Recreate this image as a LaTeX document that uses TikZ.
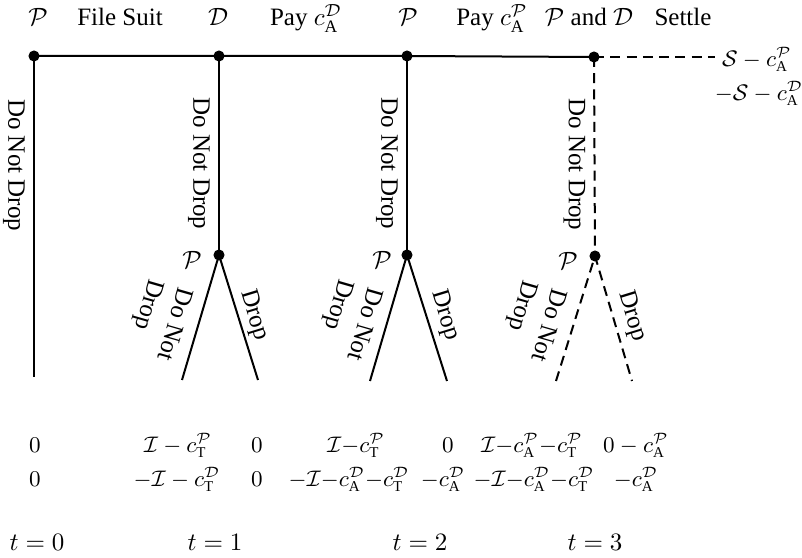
\documentclass[tikz,border=0pt]{standalone}
\usepackage{amsmath,fontspec}
\setmainfont{Liberation Serif}
\usetikzlibrary{arrows.meta,calc,positioning}
\tikzset {
  >=Stealth,
  every node/.style={font=\normalsize},
  branch/.style={line width=0.8pt},
  settle/.style={line width=0.8pt,dash pattern=on 4pt off 2.5pt},
  vlabel/.style={rotate=-90,anchor=north},
  blabel/.style={align=left,rotate=-106},
  payoff/.style={font=\small,anchor=base},
  stage/.style={anchor=base},
}
\newcommand{\cst}[2]{c_{\mathrm{#1}}^{\mathcal{#2}}}

\begin{document}
\begin{tikzpicture}[x=0.4pt,y=-0.4pt]
  \useasboundingbox (0,0) rectangle (802,558);

  \coordinate (n0) at (34,56);
  \coordinate (n1) at (219,56);
  \coordinate (n2) at (407,56);
  \coordinate (n3) at (594,57);
  \coordinate (s3) at (715,57);
  \coordinate (p1) at (219,255);
  \coordinate (p2) at (407,255);
  \coordinate (p3) at (595,256);
  \coordinate (l0) at (34,377);
  \coordinate (l1a) at (182,380);
  \coordinate (l1b) at (258,380);
  \coordinate (l2a) at (370,381);
  \coordinate (l2b) at (447,381);
  \coordinate (l3a) at (556,381);
  \coordinate (l3b) at (632,381);

  % main line
  \draw[branch] (n0) -- (n1) -- (n2) -- (n3);
  \draw[settle] (n3) -- (s3);

  \draw[branch] (n0) -- node[vlabel,pos=.34]{Do Not Drop} (l0);
  \draw[branch] (n1) -- node[vlabel,pos=.54]{Do Not Drop} (p1);
  \draw[branch] (n2) -- node[vlabel,pos=.54]{Do Not Drop} (p2);
  \draw[settle] (n3) -- node[vlabel,pos=.54]{Do Not Drop} (p3);

  \draw[branch] (l1a) -- (p1) -- (l1b);
  \draw[branch] (l2a) -- (p2) -- (l2b);
  \draw[settle] (l3a) -- (p3) -- (l3b);

  \node[blabel] (dn1) at ($(p1)+(-60,65)$) {Do Not\\Drop};
  \node[blabel] (dn2) at ($(p2)+(-58,65)$) {Do Not\\Drop};
  \node[blabel] (dn3) at ($(p3)+(-62,65)$) {Do Not\\Drop};
  \node[rotate=-73] (dr1) at ($(p1)+(35,60)$) {Drop};
  \node[rotate=-73] (dr2) at ($(p2)+(38,60)$) {Drop};
  \node[rotate=-73] (dr3) at ($(p3)+(37,60)$) {Drop};
  \node (pl1) at ($(p1)+(-27,5)$) {$\mathcal{P}$};
  \node (pl2) at ($(p2)+(-25,5)$) {$\mathcal{P}$};
  \node (pl3) at ($(p3)+(-27,5)$) {$\mathcal{P}$};

  \foreach \c in {n0,n1,n2,n3,p1,p2,p3}
    \filldraw (\c) circle[radius=2pt];

  % moves along the top
  \node[stage] (mv0) at (38,26) {$\mathcal{P}$};
  \node[stage] (fs) at (120,26) {File Suit};
  \node[stage] (mv1) at (218,26) {$\mathcal{D}$};
  \node[stage] (pd) at (306,26) {Pay $\cst{A}{D}$};
  \node[stage] (mv2) at (408,26) {$\mathcal{P}$};
  \node[stage] (pp) at (492,26) {Pay $\cst{A}{P}$};
  \node[stage] (mv3) at (589,26) {$\mathcal{P}$ and $\mathcal{D}$};
  \node[stage] (st) at (683,26) {Settle};

  % settlement payoffs
  \node[payoff] (sp) at (757,67) {$\mathcal{S}-\cst{A}{P}$};
  \node[payoff] (sd) at (759,101) {$-\mathcal{S}-\cst{A}{D}$};

  % payoffs at the leaves
  \node[payoff] (a0) at (35,453) {$0$};
  \node[payoff] (b0) at (35,487) {$0$};
  \node[payoff] (a1) at (178,453) {$\mathcal{I}-\cst{T}{P}$};
  \node[payoff] (b1) at (177,487) {$-\mathcal{I}-\cst{T}{D}$};
  \node[payoff] (a1d) at (257,453) {$0$};
  \node[payoff] (b1d) at (257,487) {$0$};
  \node[payoff] (a2) at (356,453) {$\mathcal{I}{-}\cst{T}{P}$};
  \node[payoff] (b2) at (349,487) {$-\mathcal{I}{-}\cst{A}{D}{-}\cst{T}{D}$};
  \node[payoff] (a2d) at (448,453) {$0$};
  \node[payoff] (b2d) at (443,487) {$-\cst{A}{D}$};
  \node[payoff] (a3) at (532,453) {$\mathcal{I}{-}\cst{A}{P}{-}\cst{T}{P}$};
  \node[payoff] (b3) at (534,487) {$-\mathcal{I}{-}\cst{A}{D}{-}\cst{T}{D}$};
  \node[payoff] (a3d) at (636,453) {$0-\cst{A}{P}$};
  \node[payoff] (b3d) at (636,487) {$-\cst{A}{D}$};

  % periods
  \node[stage] (t0) at (37,551) {$t=0$};
  \node[stage] (t1) at (215,551) {$t=1$};
  \node[stage] (t2) at (420,551) {$t=2$};
  \node[stage] (t3) at (595,551) {$t=3$};
\end{tikzpicture}
\end{document}
